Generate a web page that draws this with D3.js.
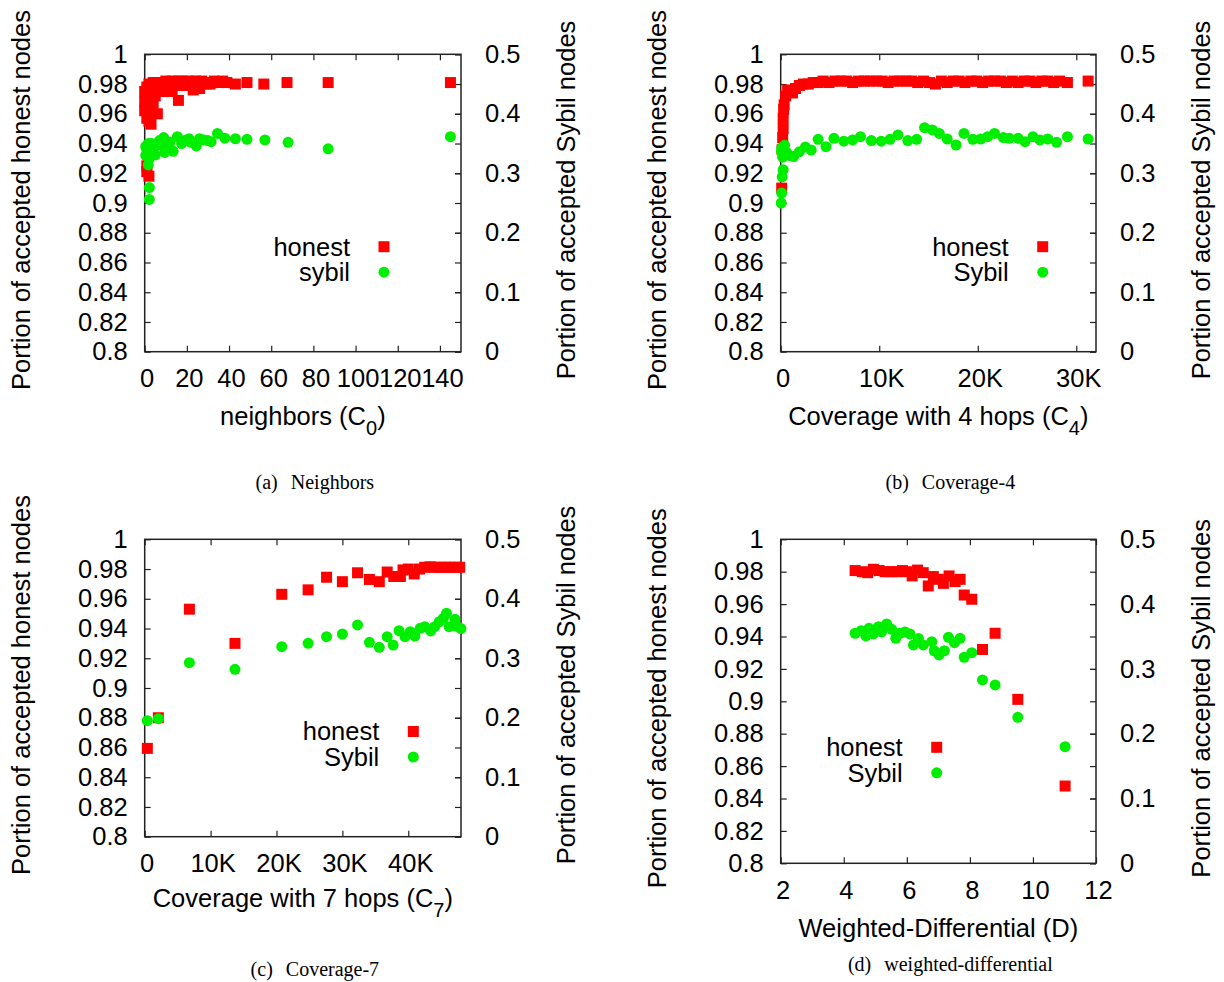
<!DOCTYPE html>
<html>
<head>
<meta charset="utf-8">
<script src="https://cdn.jsdelivr.net/npm/d3@7"></script>
<style>
  html, body { margin: 0; padding: 0; background: #fff; }
  svg { display: block; }
  text { font-family: "Liberation Sans", Arial, Helvetica, sans-serif; fill: #000; }
  .cap { font-family: "Liberation Serif", "Times New Roman", serif; }
</style>
</head>
<body>
<svg id="fig" width="1224" height="982"></svg>
<script>
// ---- tick values shared by all four panels ----
const honestTicks = [0.8, 0.82, 0.84, 0.86, 0.88, 0.9, 0.92, 0.94, 0.96, 0.98, 1];
const sybilTicks = [0, 0.1, 0.2, 0.3, 0.4, 0.5];
const neighborTicks = [0, 20, 40, 60, 80, 100, 120, 140];
const cover4Ticks = [0, 10000, 20000, 30000];
const cover7Ticks = [0, 10000, 20000, 30000, 40000];
const diffTicks = [2, 4, 6, 8, 10, 12];

// ---- (a) neighbors C0 ----
const neighborsHonest = [
  [0, 0.975], [0, 0.968], [0, 0.962], [1, 0.978], [1, 0.971], [1, 0.964], [1, 0.957],
  [1, 0.921], [1, 0.925], [2, 0.980], [2, 0.973], [2, 0.966], [2, 0.955], [2, 0.918],
  [3, 0.978], [3, 0.969], [3, 0.953], [4, 0.981], [4, 0.974], [4, 0.967], [5, 0.979],
  [5, 0.972], [6, 0.960], [6, 0.981], [6, 0.976], [7, 0.978], [8, 0.981], [8, 0.975],
  [9, 0.979], [10, 0.982], [10, 0.976], [11, 0.980], [12, 0.977], [13, 0.982], [13, 0.975],
  [14, 0.979], [15, 0.981], [16, 0.969], [16, 0.982], [17, 0.979], [18, 0.982], [19, 0.980],
  [20, 0.981], [21, 0.982], [22, 0.979], [23, 0.976], [24, 0.982], [25, 0.981], [26, 0.977],
  [27, 0.982], [28, 0.981], [29, 0.980], [31, 0.980], [33, 0.982], [35, 0.981], [37, 0.982],
  [39, 0.981], [43, 0.980], [48.5, 0.981], [56.5, 0.980], [67.5, 0.981], [87, 0.981], [145, 0.981]
];
const neighborsSybil = [
  [145, 0.3615], [87, 0.341], [68, 0.352], [57, 0.356], [48.5, 0.357], [43, 0.358],
  [38, 0.359], [34.5, 0.367], [31.5, 0.353], [30, 0.355], [28, 0.356], [26, 0.358],
  [24.5, 0.346], [22, 0.352], [21, 0.358], [19, 0.355], [17.5, 0.350], [15.5, 0.3615],
  [13.5, 0.337], [12, 0.352], [11, 0.345], [9, 0.360], [9.5, 0.335], [7, 0.355],
  [6.5, 0.348], [5, 0.331], [4, 0.345], [3.3, 0.350], [2.2, 0.325], [1.7, 0.314],
  [1.7, 0.350], [1, 0.340], [0.5, 0.345], [0.5, 0.330], [2.2, 0.276], [2.2, 0.256]
];

// ---- (b) coverage with 4 hops C4 ----
const cover4Honest = [
  [100, 0.910], [150, 0.936], [200, 0.944], [250, 0.950], [250, 0.957], [300, 0.963],
  [350, 0.966], [500, 0.972], [700, 0.976], [900, 0.975], [1200, 0.974], [1500, 0.977],
  [1900, 0.979], [2300, 0.980], [2800, 0.980], [3300, 0.981], [3800, 0.981], [4300, 0.982],
  [4900, 0.981], [5500, 0.982], [6100, 0.982], [6700, 0.982], [7300, 0.981], [7900, 0.982],
  [8500, 0.982], [9100, 0.982], [9700, 0.982], [10300, 0.982], [10900, 0.981], [11500, 0.982],
  [12100, 0.982], [12700, 0.982], [13300, 0.982], [13900, 0.981], [14500, 0.982], [15100, 0.981],
  [15700, 0.980], [16300, 0.982], [16900, 0.981], [17500, 0.982], [18100, 0.982], [18700, 0.981],
  [19300, 0.982], [19900, 0.982], [20500, 0.981], [21100, 0.982], [21700, 0.982], [22300, 0.982],
  [22900, 0.981], [23500, 0.982], [24100, 0.981], [24700, 0.982], [25300, 0.982], [25900, 0.981],
  [26500, 0.982], [27100, 0.982], [27700, 0.981], [28300, 0.982], [29100, 0.981], [31200, 0.982]
];
const cover4Sybil = [
  [31200, 0.3576], [29100, 0.3615], [28000, 0.352], [27100, 0.3576], [26300, 0.356],
  [25600, 0.3615], [24800, 0.353], [24100, 0.3587], [23200, 0.3587], [22600, 0.360],
  [21700, 0.367], [21000, 0.3615], [20300, 0.3576], [19500, 0.357], [18600, 0.367],
  [17800, 0.3475], [16900, 0.3576], [16100, 0.367], [15400, 0.3728], [14600, 0.3767],
  [13800, 0.357], [12900, 0.355], [11900, 0.3644], [11100, 0.357], [10200, 0.354],
  [9200, 0.355], [8100, 0.3615], [7300, 0.356], [6400, 0.354], [5400, 0.3587],
  [4600, 0.3447], [3800, 0.357], [3100, 0.339], [2500, 0.344], [1900, 0.3363],
  [1300, 0.328], [900, 0.330], [600, 0.335], [400, 0.347], [100, 0.343], [80, 0.336],
  [200, 0.327], [250, 0.306], [150, 0.294], [100, 0.267], [50, 0.250]
];

// ---- (c) coverage with 7 hops C7 ----
const cover7Honest = [
  [400, 0.8594], [2070, 0.880], [6780, 0.953], [13700, 0.930], [20800, 0.963], [24800, 0.966],
  [27600, 0.9745], [30000, 0.9715], [32300, 0.9775], [34100, 0.973], [35600, 0.9715],
  [36800, 0.978], [37800, 0.975], [38800, 0.975], [39200, 0.9794], [40000, 0.980],
  [40900, 0.9767], [41700, 0.980], [42500, 0.9812], [43300, 0.9815], [44000, 0.9812],
  [44800, 0.9812], [45600, 0.9812], [46300, 0.9812], [47100, 0.9812], [47800, 0.9812]
];
const cover7Sybil = [
  [400, 0.195], [2070, 0.1984], [6780, 0.2926], [13700, 0.2814], [20800, 0.3195],
  [24800, 0.3251], [27600, 0.3363], [30000, 0.3408], [32300, 0.356], [34100, 0.3268],
  [35600, 0.3184], [36800, 0.3363], [37700, 0.3223], [38600, 0.3464], [39500, 0.3363],
  [40300, 0.3447], [41000, 0.3374], [41800, 0.3503], [42500, 0.353], [43400, 0.346],
  [44000, 0.353], [44700, 0.3615], [45300, 0.367], [45800, 0.3756], [46200, 0.353],
  [47100, 0.3655], [47300, 0.354], [48000, 0.350]
];

// ---- (d) weighted-differential D ----
const diffHonest = [
  [4.36, 0.9807], [4.59, 0.9800], [4.76, 0.9794], [4.94, 0.9815], [5.12, 0.9807],
  [5.31, 0.9800], [5.50, 0.9800], [5.68, 0.9800], [5.86, 0.9807], [6.00, 0.9800],
  [6.17, 0.9774], [6.34, 0.9810], [6.52, 0.9794], [6.68, 0.9712], [6.84, 0.9770],
  [7.00, 0.9753], [7.16, 0.9728], [7.34, 0.9774], [7.53, 0.9739], [7.69, 0.9753],
  [7.82, 0.9656], [8.06, 0.9630], [8.40, 0.9320], [8.80, 0.9420], [9.52, 0.9012], [11.02, 0.8477]
];
const diffSybil = [
  [4.36, 0.355], [4.55, 0.359], [4.70, 0.3508], [4.80, 0.3627], [4.94, 0.3539],
  [5.10, 0.3652], [5.20, 0.357], [5.36, 0.3693], [5.52, 0.361], [5.65, 0.3472],
  [5.78, 0.355], [5.94, 0.357], [6.10, 0.354], [6.21, 0.337], [6.37, 0.347],
  [6.52, 0.337], [6.79, 0.342], [6.87, 0.328], [7.02, 0.3215], [7.19, 0.328],
  [7.32, 0.3488], [7.51, 0.3405], [7.69, 0.3472], [7.82, 0.318], [8.06, 0.325],
  [8.40, 0.283], [8.80, 0.2752], [9.52, 0.2253], [11.02, 0.180]
];

// ---- drawing ----
const svg = d3.select("#fig");
const FONT = 25.5;
const RED = "#ff0000";
const GREEN = "#00ee00";
const squareSym = d3.symbol().type(d3.symbolSquare).size(11 * 11);
const circleSym = d3.symbol().type(d3.symbolCircle).size(Math.PI * 5.5 * 5.5);
const kFormat = v => v === 0 ? "0" : (v / 1000) + "K";

const panels = [
  { left: 144.7, right: 461, top: 54.3, bottom: 351.7, xDomain: [0, 150], xTicks: neighborTicks,
    xFormat: d3.format("d"), honest: neighborsHonest, sybil: neighborsSybil,
    xLabel: ["neighbors (C", "0", ")"], legend: { x: 384, y: 246.7 }, sybilName: "sybil",
    tickGap: 35, labelGap: 73, caption: ["(a)", "Neighbors"], capY: 488.5 },
  { left: 780.7, right: 1096, top: 54.3, bottom: 351.7, xDomain: [0, 32000], xTicks: cover4Ticks,
    xFormat: kFormat, honest: cover4Honest, sybil: cover4Sybil,
    xLabel: ["Coverage with 4 hops (C", "4", ")"], legend: { x: 1042.7, y: 246.7 }, sybilName: "Sybil",
    tickGap: 35, labelGap: 73, caption: ["(b)", "Coverage-4"], capY: 488.5 },
  { left: 144.7, right: 461, top: 539.3, bottom: 836.7, xDomain: [0, 48000], xTicks: cover7Ticks,
    xFormat: kFormat, honest: cover7Honest, sybil: cover7Sybil,
    xLabel: ["Coverage with 7 hops (C", "7", ")"], legend: { x: 413.3, y: 731.5 }, sybilName: "Sybil",
    tickGap: 35, labelGap: 70, caption: ["(c)", "Coverage-7"], capY: 976 },
  { left: 780.7, right: 1096, top: 539.3, bottom: 863.3, xDomain: [2, 12], xTicks: diffTicks,
    xFormat: d3.format("d"), honest: diffHonest, sybil: diffSybil,
    xLabel: ["Weighted-Differential (D)", null, null], legend: { x: 936.7, y: 747.3 }, sybilName: "Sybil",
    tickGap: 36, labelGap: 74, caption: ["(d)", "weighted-differential"], capY: 971 }
];

function styleAxis(g) {
  g.select(".domain").remove();
  g.selectAll(".tick line").attr("stroke", "#222").attr("stroke-width", 1.2);
  g.selectAll("text").attr("font-size", FONT).attr("font-family", null).attr("fill", "#000");
  g.attr("font-family", null).attr("font-size", null);
}

panels.forEach(p => {
  const x = d3.scaleLinear().domain(p.xDomain).range([p.left, p.right]);
  const yH = d3.scaleLinear().domain([0.8, 1]).range([p.bottom, p.top]);
  const yS = d3.scaleLinear().domain([0, 0.5]).range([p.bottom, p.top]);
  const g = svg.append("g");
  const TL = 6;

  // left axis (honest) with inward ticks, mirrored on the right edge
  g.append("g").attr("transform", `translate(${p.left},0)`)
    .call(d3.axisLeft(yH).tickValues(honestTicks).tickFormat(d3.format("~g"))
      .tickSizeInner(-TL).tickSizeOuter(0).tickPadding(17))
    .call(styleAxis);
  g.append("g").attr("transform", `translate(${p.right},0)`)
    .call(d3.axisRight(yH).tickValues(honestTicks).tickFormat("")
      .tickSizeInner(-TL).tickSizeOuter(0))
    .call(styleAxis);
  // right axis (Sybil)
  g.append("g").attr("transform", `translate(${p.right},0)`)
    .call(d3.axisRight(yS).tickValues(sybilTicks).tickFormat(d3.format("~g"))
      .tickSizeInner(-TL).tickSizeOuter(0).tickPadding(24))
    .call(styleAxis);
  // bottom axis, mirrored on top
  const bx = g.append("g").attr("transform", `translate(0,${p.bottom})`)
    .call(d3.axisBottom(x).tickValues(p.xTicks).tickFormat(p.xFormat)
      .tickSizeInner(-TL).tickSizeOuter(0).tickPadding(0))
    .call(styleAxis);
  bx.selectAll("text").attr("dy", null).attr("y", p.tickGap).attr("x", 2);
  g.append("g").attr("transform", `translate(0,${p.top})`)
    .call(d3.axisTop(x).tickValues(p.xTicks).tickFormat("")
      .tickSizeInner(-TL).tickSizeOuter(0))
    .call(styleAxis);

  // frame
  g.append("rect").attr("x", p.left).attr("y", p.top)
    .attr("width", p.right - p.left).attr("height", p.bottom - p.top)
    .attr("fill", "none").attr("stroke", "#222").attr("stroke-width", 1.5);

  // markers: honest first, Sybil drawn over it
  g.append("g").selectAll("path").data(p.honest).join("path")
    .attr("d", squareSym).attr("fill", RED)
    .attr("transform", d => `translate(${x(d[0])},${yH(d[1])})`);
  g.append("g").selectAll("path").data(p.sybil).join("path")
    .attr("d", circleSym).attr("fill", GREEN)
    .attr("transform", d => `translate(${x(d[0])},${yS(d[1])})`);

  // legend
  const lg = g.append("g");
  const items = [["honest", squareSym, RED], [p.sybilName, circleSym, GREEN]];
  items.forEach((it, i) => {
    const yy = p.legend.y + i * 25.5;
    lg.append("text").attr("x", p.legend.x - 34).attr("y", yy).attr("dy", "0.35em")
      .attr("text-anchor", "end").attr("font-size", FONT).text(it[0]);
    lg.append("path").attr("d", it[1]).attr("fill", it[2])
      .attr("transform", `translate(${p.legend.x},${yy})`);
  });

  // x axis title
  const cx = (p.left + p.right) / 2;
  const xl = g.append("text").attr("x", cx).attr("y", p.bottom + p.labelGap)
    .attr("text-anchor", "middle").attr("font-size", FONT);
  xl.append("tspan").text(p.xLabel[0]);
  if (p.xLabel[1] !== null) {
    xl.append("tspan").attr("dy", 10).attr("font-size", 20).text(p.xLabel[1]);
    xl.append("tspan").attr("dy", -10).text(p.xLabel[2]);
  }

  // y axis titles
  const cy = (p.top + p.bottom) / 2 - 3;
  g.append("text").attr("transform", `translate(${p.left - 115},${cy}) rotate(-90)`)
    .attr("text-anchor", "middle").attr("font-size", FONT)
    .text("Portion of accepted honest nodes");
  g.append("text").attr("transform", `translate(${p.right + 114},${cy}) rotate(-90)`)
    .attr("text-anchor", "middle").attr("font-size", FONT)
    .text("Portion of accepted Sybil nodes");

  // sub-figure caption
  const cap = g.append("text").attr("class", "cap").attr("x", cx + 12).attr("y", p.capY)
    .attr("text-anchor", "middle").attr("font-size", 20);
  cap.append("tspan").text(p.caption[0]);
  cap.append("tspan").attr("dx", 13).text(p.caption[1]);
});
</script>
</body>
</html>
